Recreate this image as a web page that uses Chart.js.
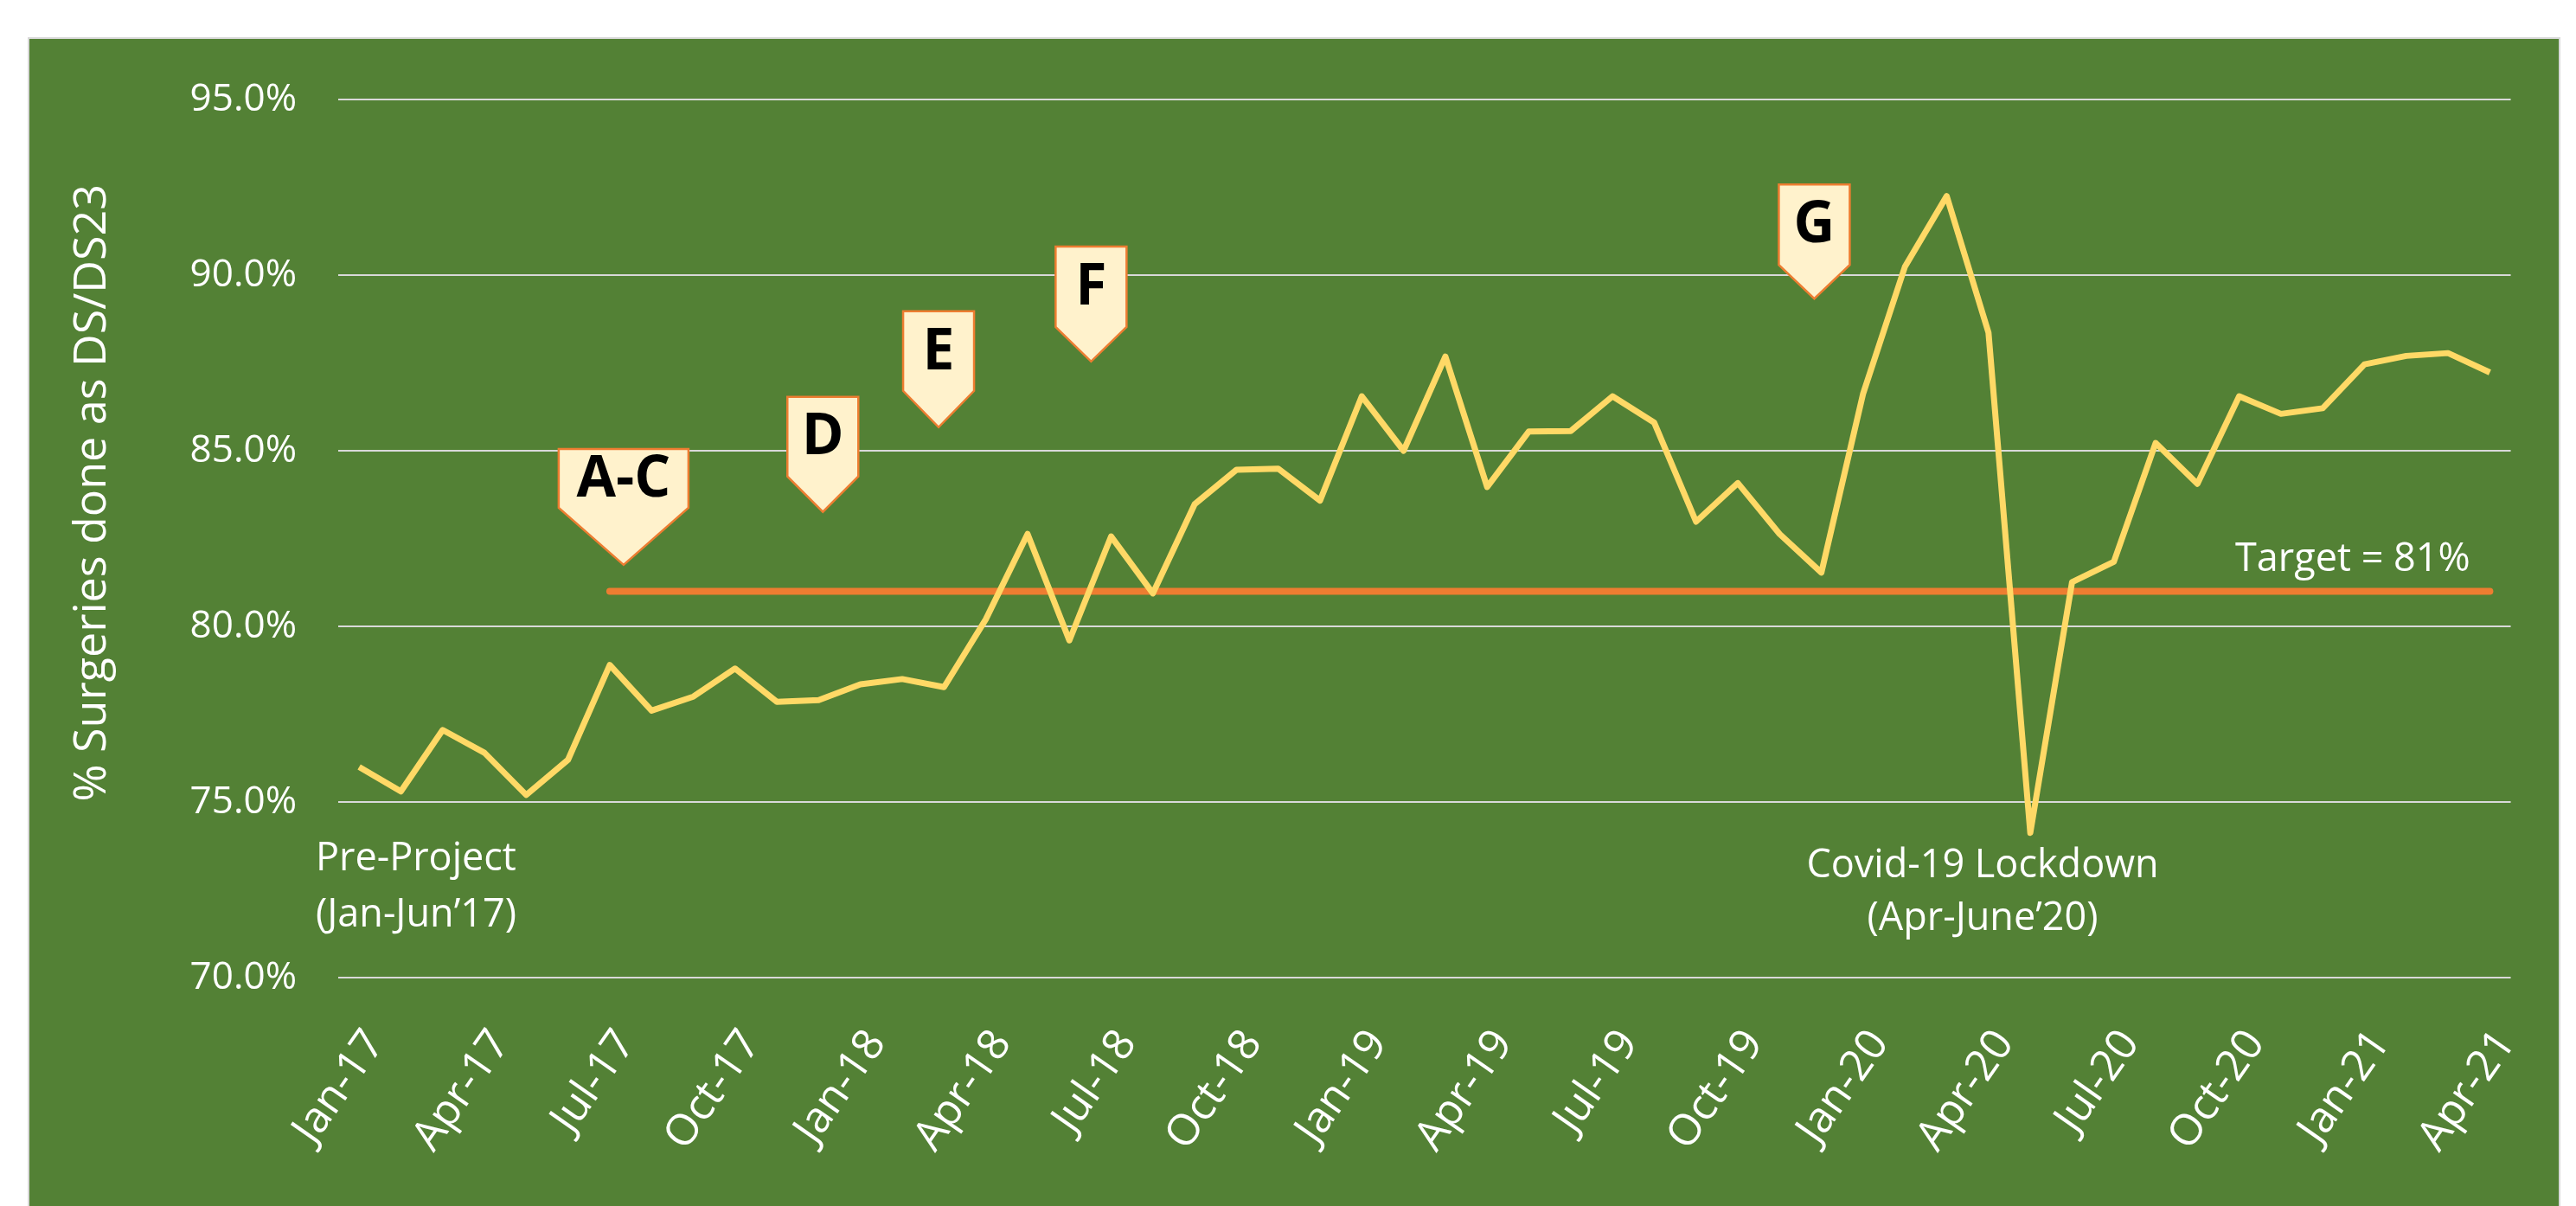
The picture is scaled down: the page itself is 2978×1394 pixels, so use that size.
<!DOCTYPE html>
<html>
<head>
<meta charset="utf-8">
<title>Day surgery rate</title>
<script src="https://cdn.jsdelivr.net/npm/chart.js@4.4.0/dist/chart.umd.min.js"></script>
<style>
  html, body { margin: 0; padding: 0; background: #fff; }
  #wrap { position: relative; width: 2978px; height: 1394px; }
</style>
</head>
<body>
<div id="wrap"><canvas id="dsChart"></canvas></div>
<script>
// monthly categories
const months = [
  'Jan-17', 'Feb-17', 'Mar-17', 'Apr-17', 'May-17', 'Jun-17', 'Jul-17', 'Aug-17', 'Sep-17', 'Oct-17', 'Nov-17', 'Dec-17',
  'Jan-18', 'Feb-18', 'Mar-18', 'Apr-18', 'May-18', 'Jun-18', 'Jul-18', 'Aug-18', 'Sep-18', 'Oct-18', 'Nov-18', 'Dec-18',
  'Jan-19', 'Feb-19', 'Mar-19', 'Apr-19', 'May-19', 'Jun-19', 'Jul-19', 'Aug-19', 'Sep-19', 'Oct-19', 'Nov-19', 'Dec-19',
  'Jan-20', 'Feb-20', 'Mar-20', 'Apr-20', 'May-20', 'Jun-20', 'Jul-20', 'Aug-20', 'Sep-20', 'Oct-20', 'Nov-20', 'Dec-20',
  'Jan-21', 'Feb-21', 'Mar-21', 'Apr-21'
];

// labels shown on the x axis
const xTickLabels = [
  'Jan-17', 'Apr-17', 'Jul-17', 'Oct-17', 'Jan-18', 'Apr-18', 'Jul-18', 'Oct-18', 'Jan-19',
  'Apr-19', 'Jul-19', 'Oct-19', 'Jan-20', 'Apr-20', 'Jul-20', 'Oct-20', 'Jan-21', 'Apr-21'
];

// % surgeries done as DS/DS23
const dsRate = [
  76.0, 75.3, 77.05, 76.4, 75.2, 76.2,
  78.9, 77.6, 78.0, 78.8, 77.85, 77.9,
  78.35, 78.5, 78.27, 80.2, 82.63, 79.6,
  82.56, 80.94, 83.48, 84.46, 84.49, 83.58,
  86.55, 85.0, 87.68, 83.97, 85.55, 85.56,
  86.55, 85.8, 82.98, 84.08, 82.63, 81.53,
  86.63, 90.24, 92.25, 88.36, 74.12, 81.26,
  81.84, 85.22, 84.06, 86.55, 86.05, 86.21,
  87.46, 87.7, 87.78, 87.23
];

// target line (starts Jul-17)
const target = [
  null, null, null, null, null, null,
  81, 81, 81, 81, 81, 81,
  81, 81, 81, 81, 81, 81,
  81, 81, 81, 81, 81, 81,
  81, 81, 81, 81, 81, 81,
  81, 81, 81, 81, 81, 81,
  81, 81, 81, 81, 81, 81,
  81, 81, 81, 81, 81, 81,
  81, 81, 81, 81
];

const yMin = 70;
const yMax = 95;
const yStep = 5;

// intervention callouts: tip at (category index, value)
const callouts = [
  { text: 'A-C', at: 6.33, tip: 81.75, w: 150, body: 68, point: 66 },
  { text: 'D', at: 11.1, tip: 83.26, w: 82, body: 92, point: 41 },
  { text: 'E', at: 13.87, tip: 85.67, w: 82, body: 92, point: 42 },
  { text: 'F', at: 17.52, tip: 87.54, w: 82, body: 93, point: 40 },
  { text: 'G', at: 34.83, tip: 89.33, w: 82, body: 93, point: 39 }
];

const notes = [
  { lines: ['Pre-Project', '(Jan-Jun\u201917)'], at: -1.04, value: 73.05, align: 'left', gap: 65 },
  { lines: ['Covid-19 Lockdown', '(Apr-June\u201920)'], at: 38.86, value: 72.86, align: 'center', gap: 61 },
  { lines: ['Target = 81%'], at: 50.53, value: 81.58, align: 'right', gap: 0 }
];

const FONT = "'Open Sans', sans-serif";

const panelPlugin = {
    id: 'panel',
    beforeDraw(chart) {
        const ctx = chart.ctx;
        ctx.save();
        ctx.fillStyle = '#538135';
        ctx.fillRect(33, 44, 2926, 1360);
        ctx.strokeStyle = '#D9D9D9';
        ctx.lineWidth = 2;
        ctx.strokeRect(33, 44, 2926, 1360);
        ctx.restore();
    },
    afterDraw(chart) {
        const ctx = chart.ctx;
        const xs = chart.scales.x;
        const ys = chart.scales.y;

        // axis title
        ctx.save();
        ctx.translate(ys.left + 75, ys.getPixelForValue(83.8));
        ctx.rotate(-Math.PI / 2);
        ctx.fillStyle = '#fff';
        ctx.font = '52px ' + FONT;
        ctx.textAlign = 'center';
        ctx.textBaseline = 'middle';
        ctx.fillText('% Surgeries done as DS/DS23', 0, 0);
        ctx.restore();

        // callouts
        callouts.forEach(c => {
            const x = xs.getPixelForValue(c.at);
            const y = ys.getPixelForValue(c.tip);
            const top = y - c.point - c.body;
            ctx.save();
            ctx.beginPath();
            ctx.moveTo(x - c.w / 2, top);
            ctx.lineTo(x + c.w / 2, top);
            ctx.lineTo(x + c.w / 2, y - c.point);
            ctx.lineTo(x, y);
            ctx.lineTo(x - c.w / 2, y - c.point);
            ctx.closePath();
            ctx.fillStyle = '#FFF2CC';
            ctx.fill();
            ctx.strokeStyle = '#ED7D31';
            ctx.lineWidth = 2.5;
            ctx.stroke();
            ctx.fillStyle = '#000';
            ctx.font = 'bold 66px ' + FONT;
            ctx.textAlign = 'center';
            ctx.textBaseline = 'middle';
            ctx.fillText(c.text, x, top + c.body / 2 + 2);
            ctx.restore();
        });

        // text notes
        notes.forEach(n => {
            const x = xs.getPixelForValue(n.at);
            const y = ys.getPixelForValue(n.value);
            ctx.save();
            ctx.fillStyle = '#fff';
            ctx.font = '45px ' + FONT;
            ctx.textAlign = n.align;
            ctx.textBaseline = 'alphabetic';
            n.lines.forEach((line, i) => ctx.fillText(line, x, y + i * n.gap));
            ctx.restore();
        });
    }
};

const dsCtx = document.getElementById('dsChart');
new Chart(dsCtx, {
    type: 'line',
    data: {
        labels: months,
        datasets: [
            { label: '% DS/DS23', data: dsRate, borderColor: '#FFD966', borderWidth: 7, pointRadius: 0, tension: 0, borderJoinStyle: 'round' },
            { label: 'Target', data: target, borderColor: '#ED7D31', borderWidth: 8, pointRadius: 0, borderCapStyle: 'round', spanGaps: false }
        ]
    },
    options: {
        responsive: true,
        maintainAspectRatio: false,
        animation: false,
        devicePixelRatio: 1,
        layout: { padding: { left: 32, right: 46, top: 115, bottom: 0 } },
        plugins: { legend: { display: false }, tooltip: { enabled: false } },
        scales: {
            x: {
                offset: true,
                grid: { display: false, drawTicks: false },
                border: { display: false },
                afterFit: s => { s.height = 264; },
                ticks: {
                    autoSkip: false,
                    minRotation: 55,
                    maxRotation: 55,
                    padding: 50,
                    labelOffset: 19,
                    color: '#fff',
                    font: { family: FONT, size: 50 },
                    callback: function(v, i) { return xTickLabels.includes(months[i]) ? months[i] : ''; }
                }
            },
            y: {
                min: yMin,
                max: yMax,
                grid: { color: '#D9D9D9', lineWidth: 2, drawTicks: false },
                border: { display: false },
                afterFit: s => { s.width = 359; },
                ticks: {
                    stepSize: yStep,
                    padding: 48,
                    color: '#fff',
                    font: { family: FONT, size: 44 },
                    callback: v => v.toFixed(1) + '%'
                }
            }
        }
    },
    plugins: [panelPlugin]
});
</script>
</body>
</html>
